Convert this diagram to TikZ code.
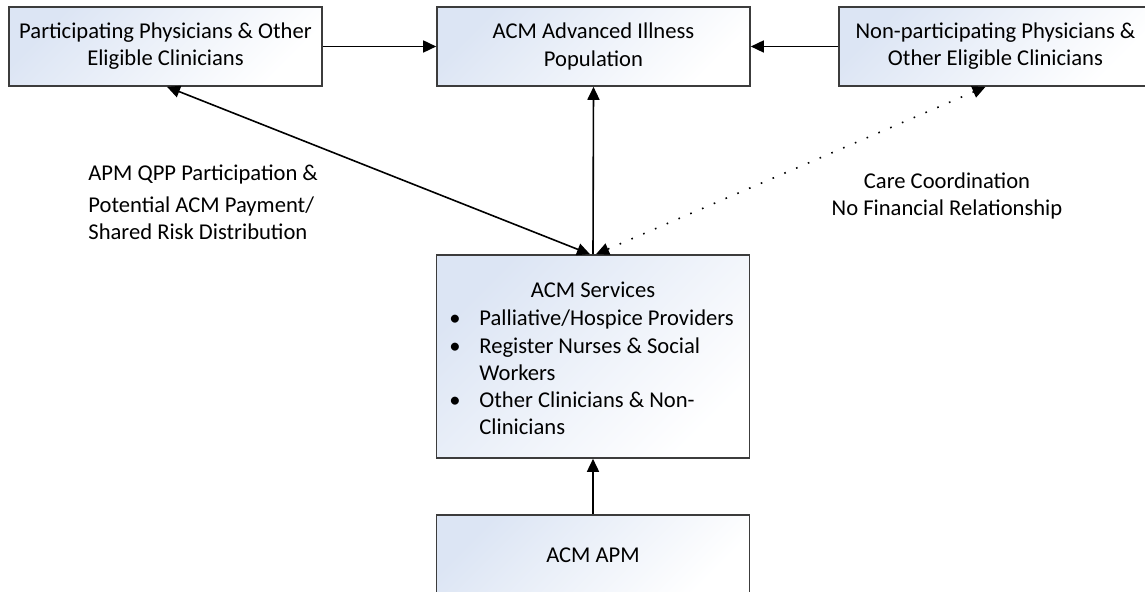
\documentclass[tikz,border=0pt]{standalone}
\usepackage{fontspec}
\setmainfont{Carlito}
\usetikzlibrary{arrows.meta, positioning}

\definecolor{acmblue}{RGB}{220,229,244}
\definecolor{acmline}{RGB}{60,60,60}

\tikzset{
  acmbox/.style={draw=acmline, line width=0.8pt, top color=acmblue, bottom color=white,
    shading angle=45, minimum width=156.5pt, minimum height=39.5pt, align=center, inner sep=2pt},
  acmtext/.style={inner sep=0pt},
  arr/.style={line width=0.8pt, -{Triangle[length=6.5pt, width=6pt]}},
  arrboth/.style={line width=0.8pt, {Triangle[length=6.5pt, width=6pt]}-{Triangle[length=6.5pt, width=6pt]}},
  nofin/.style={arrboth, dash pattern=on 0.8pt off 5.6pt}
}

\begin{document}
\begin{tikzpicture}[x=0.5pt, y=-0.5pt, every node/.style={font=\fontsize{11.3}{13.6}\selectfont}]
	\useasboundingbox (0,0) rectangle (1145,592);

	% Draw the top row of boxes
	\node[acmbox] (part) at (165.5, 46.5) {Participating Physicians \& Other\\Eligible Clinicians};
	\node[acmbox] (pop) at (593.5, 46.5) {ACM Advanced Illness\\Population};
	\node[acmbox] (nonpart) at (995.5, 46.5) {Non-participating Physicians \&\\Other Eligible Clinicians};

	% Draw the services box and its list
	\node[acmbox, minimum height=101.5pt] (services) at (593, 356.5) {};
	\node[acmtext] (servtitle) at (593, 290) {ACM Services};
	\node[acmtext, anchor=base west] (servlist) at (449, 326) {%
		\begin{tabular}[t]{@{}p{15pt}@{}l@{}}
			\textbullet & Palliative/Hospice Providers\\
			\textbullet & Register Nurses \& Social\\
			            & Workers\\
			\textbullet & Other Clinicians \& Non-\\
			            & Clinicians
		\end{tabular}};

	% Draw the APM box
	\node[acmbox, minimum height=40pt] (apm) at (593, 555) {ACM APM};

	% Draw the arrows between the boxes
	\draw[arr] (part.east) -- (pop.west);
	\draw[arr] (nonpart.west) -- (pop.east);
	\draw[arr] (services.north) -- (pop.south);
	\draw[arr] (apm.north) -- (services.south);
	\draw[arrboth] ([xshift=0.75pt]part.south) -- ([xshift=-1.5pt]services.north);
	\draw[nofin] ([xshift=-5pt]nonpart.south) -- ([xshift=1.5pt]services.north);

	% Labels of the two slanted arrows
	\node[acmtext, anchor=north west, align=left] (qpplabel) at (88, 164)
		{APM QPP Participation \&\\[2.5pt]Potential ACM Payment/\\Shared Risk Distribution};
	\node[acmtext, align=center] (carelabel) at (947, 196)
		{Care Coordination\\No Financial Relationship};
\end{tikzpicture}
\end{document}
